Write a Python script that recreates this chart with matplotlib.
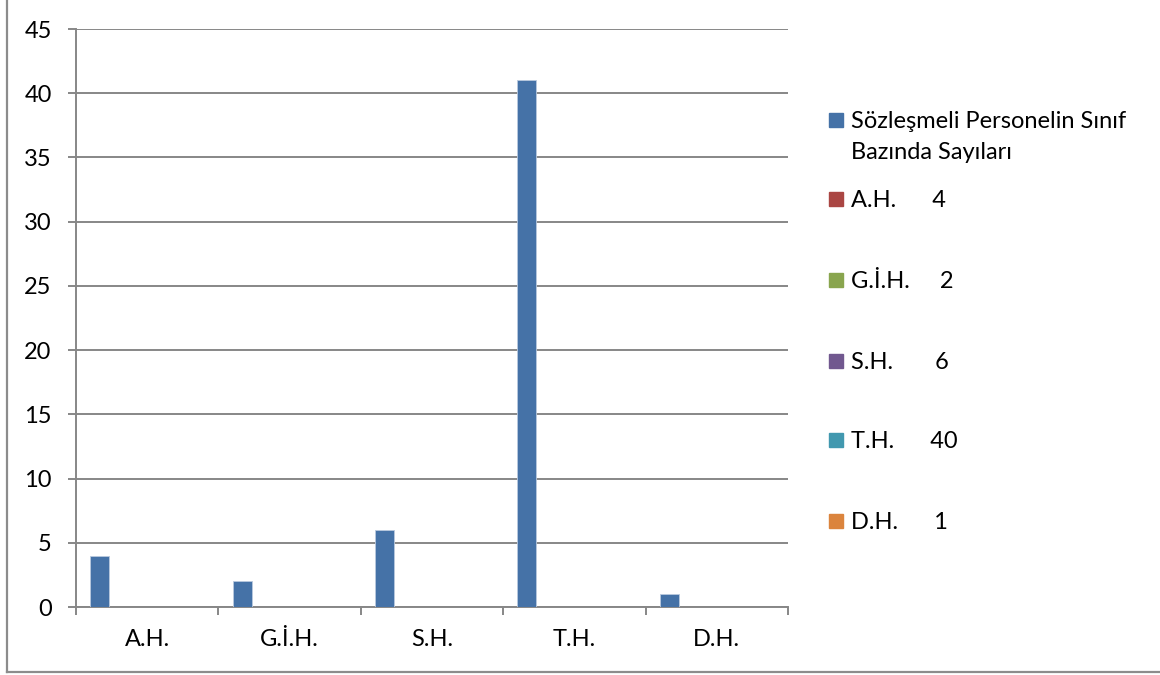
import matplotlib
matplotlib.use("Agg")
import matplotlib.pyplot as plt
from matplotlib.lines import Line2D
from matplotlib.patches import Rectangle

plt.rcParams['font.family'] = ['Lato', 'DejaVu Sans']

categories = ["A.H.", "G.İ.H.", "S.H.", "T.H.", "D.H."]
series_names = [
    "Sözleşmeli Personelin Sınıf\nBazında Sayıları",
    "A.H.      4",
    "G.İ.H.     2",
    "S.H.       6",
    "T.H.      40",
    "D.H.      1",
]
series_values = [
    [4, 2, 6, 41, 1],
    [0, 0, 0, 0, 0],
    [0, 0, 0, 0, 0],
    [0, 0, 0, 0, 0],
    [0, 0, 0, 0, 0],
    [0, 0, 0, 0, 0],
]
colors = ["#4572A7", "#AA4643", "#89A54E", "#71588F", "#4198AF", "#DB843D"]
y_ticks = [0, 5, 10, 15, 20, 25, 30, 35, 40, 45]

grid_col = "#878787"
W, H = 1160, 675
fs = 17

fig = plt.figure(figsize=(11.6, 6.75), dpi=100)
ax = fig.add_axes([76 / W, 1 - 607 / H, (788 - 76) / W, (607 - 29) / H])

# excel style clustered bars: gap width 150%
n = len(series_values)
bw = 1 / (n + 1.5)
for j, vals in enumerate(series_values):
    xs = [i + 0.75 * bw + j * bw for i in range(len(categories))]
    ax.bar(xs, vals, width=bw, align="edge", color=colors[j],
           edgecolor="#B9C9DE" if j == 0 else colors[j], linewidth=0.6, zorder=3)

ax.set_xlim(0, len(categories))
ax.set_ylim(0, 45)
ax.set_yticks(y_ticks)
ax.yaxis.grid(True, color=grid_col, linewidth=1.4)
ax.set_axisbelow(True)

ax.set_xticks(range(len(categories) + 1))
ax.set_xticklabels([])
ax.set_xticks([i + 0.5 for i in range(len(categories))], minor=True)
ax.set_xticklabels(categories, minor=True)
ax.tick_params(axis="x", which="major", length=5.5, width=1.4, color=grid_col)
ax.tick_params(axis="x", which="minor", length=0, pad=16, labelsize=fs)
ax.tick_params(axis="y", length=5.5, width=1.4, color=grid_col, pad=12, labelsize=fs)

for s in ["top", "right"]:
    ax.spines[s].set_visible(False)
for s in ["left", "bottom"]:
    ax.spines[s].set_color(grid_col)
    ax.spines[s].set_linewidth(1.4)

# legend, drawn excel-like with the handle on the first text line
leg_y = [120, 199, 280, 361, 440, 521]
for j, name in enumerate(series_names):
    yc = leg_y[j]
    fig.patches.append(Rectangle((829 / W, 1 - (yc + 7) / H), 14 / W, 14 / H,
                                 transform=fig.transFigure, color=colors[j]))
    fig.text(851 / W, 1 - (yc - 9) / H, name, fontsize=fs, va="top",
             ha="left", linespacing=1.6)

# outer frame (only left and bottom visible)
fig.lines.append(Line2D([7 / W, 7 / W], [1 - 672 / H, 1.0], transform=fig.transFigure,
                        color="#8C8C8C", linewidth=1.6))
fig.lines.append(Line2D([7 / W, 1.0], [1 - 672 / H, 1 - 672 / H], transform=fig.transFigure,
                        color="#8C8C8C", linewidth=1.6))

fig.savefig("out.png", dpi=100)
